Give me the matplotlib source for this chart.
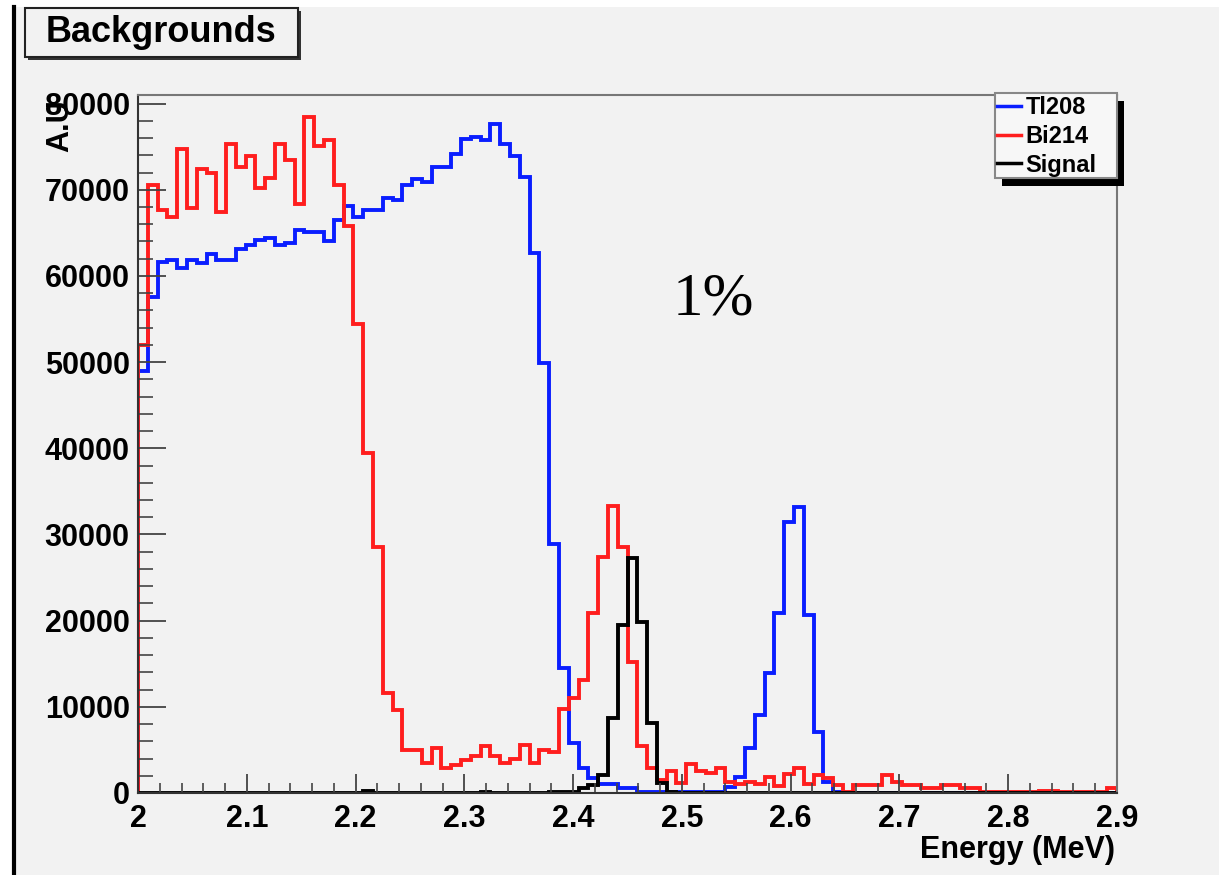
import numpy as np
import matplotlib.pyplot as plt
from matplotlib.patches import Rectangle
from matplotlib.lines import Line2D
from matplotlib.ticker import MultipleLocator

# histogram binning (MeV)
e_lo, e_hi, n_bins = 2.0, 2.9, 100

tl208 = [49000, 57600, 61600, 61800, 60900, 61800, 61500, 62500, 61800, 61800,
         63100, 63600, 64200, 64400, 63600, 63800, 65300, 65100, 65100, 64100,
         66500, 68100, 66900, 67600, 67600, 69000, 68800, 70600, 71200, 70900,
         72700, 72700, 74100, 75900, 76100, 75800, 77600, 75300, 73900, 71500,
         62700, 49900, 28900, 14500, 5800, 2900, 1700, 1100, 1100, 550,
         550, 150, 150, 150, 100, 80, 80, 80, 80, 80,
         650, 1900, 5200, 9100, 13900, 20900, 31400, 33200, 20700, 7100,
         1300, 150, 20, 20, 20, 20, 20, 20, 20, 20,
         0, 0, 0, 0, 0, 0, 0, 0, 0, 0,
         0, 0, 0, 0, 0, 0, 0, 0, 0, 0]

bi214 = [52000, 70600, 67700, 66900, 74700, 67900, 72400, 72000, 67400, 75300,
         72700, 73900, 70200, 71400, 75300, 73500, 68300, 78400, 75100, 75800,
         70600, 65800, 54400, 39500, 28500, 11600, 9600, 5000, 5000, 3450,
         5200, 2900, 3250, 3800, 4300, 5400, 4300, 3500, 4000, 5600,
         3500, 5000, 4700, 9800, 11000, 13100, 20900, 27400, 33300, 28600,
         15200, 5400, 2900, 1500, 2600, 1200, 3400, 2600, 2300, 2900,
         1300, 1100, 1300, 1100, 1900, 800, 2200, 2900, 1100, 2100,
         1700, 900, 150, 900, 900, 900, 2100, 1300, 900, 900,
         600, 600, 900, 900, 600, 600, 150, 150, 150, 150,
         150, 150, 250, 250, 80, 80, 80, 80, 80, 620]

signal = [0, 0, 0, 0, 0, 0, 0, 0, 0, 0,
          0, 0, 0, 0, 0, 0, 0, 0, 0, 0,
          0, 0, 0, 250, 0, 0, 0, 0, 0, 0,
          0, 0, 0, 0, 0, 100, 0, 0, 0, 0,
          30, 50, 80, 100, 150, 550, 930, 2090, 8670, 19500,
          27300, 19900, 8100, 1130, 100, 50, 0, 0, 0, 0,
          0, 0, 0, 0, 0, 0, 0, 0, 0, 0,
          0, 0, 0, 0, 0, 0, 0, 0, 0, 0,
          0, 0, 0, 0, 0, 0, 0, 0, 0, 0,
          0, 0, 0, 0, 0, 0, 0, 0, 0, 0]

series_names = ['Tl208', 'Bi214', 'Signal']
series_colors = ['#0a1eff', '#ff1e1e', '#000000']

x_ticks = [2.0, 2.1, 2.2, 2.3, 2.4, 2.5, 2.6, 2.7, 2.8, 2.9]
x_tick_labels = ['2', '2.1', '2.2', '2.3', '2.4', '2.5', '2.6', '2.7', '2.8', '2.9']
y_ticks = [0, 10000, 20000, 30000, 40000, 50000, 60000, 70000, 80000]

W, H = 1219, 875
bg = '#f2f2f2'


def fx(px):
    return px / W


def fy(py):
    return 1 - py / H


plt.rcParams['font.family'] = ['Liberation Sans', 'DejaVu Sans']
plt.rcParams['font.weight'] = 'bold'

fig = plt.figure(figsize=(W / 100, H / 100), dpi=100, facecolor=bg)

# white margins and the black canvas border on the left
fig.patches.append(Rectangle((0, 0), fx(12), 1, transform=fig.transFigure,
                             facecolor='white', edgecolor='none'))
fig.patches.append(Rectangle((0, fy(7)), 1, 1 - fy(7), transform=fig.transFigure,
                             facecolor='white', edgecolor='none'))
fig.add_artist(Line2D([fx(14), fx(14)], [0, fy(7)], color='black', lw=3,
                      transform=fig.transFigure))

ax = fig.add_axes([fx(138), fy(793), fx(1117) - fx(138), fy(95) - fy(793)])
ax.set_facecolor(bg)

edges = np.linspace(e_lo, e_hi, n_bins + 1)
for vals, col in zip([tl208, bi214, signal], series_colors):
    ax.stairs(vals, edges, color=col, lw=2.8)

ax.set_xlim(e_lo, e_hi)
ax.set_ylim(0, 81000)
ax.set_xticks(x_ticks)
ax.set_xticklabels(x_tick_labels)
ax.set_yticks(y_ticks)
ax.set_yticklabels([str(v) for v in y_ticks])
ax.xaxis.set_minor_locator(MultipleLocator(0.02))
ax.yaxis.set_minor_locator(MultipleLocator(2000))
ax.tick_params(axis='y', which='major', direction='in', length=20, width=1.3,
               color='#444444', labelsize=22, pad=6)
ax.tick_params(axis='y', which='minor', direction='in', length=11, width=1.2,
               color='#444444')
ax.tick_params(axis='x', which='major', direction='in', length=14, width=1.3,
               color='#444444', labelsize=22, pad=8)
ax.tick_params(axis='x', which='minor', direction='in', length=7, width=1.2,
               color='#444444')
for side in ['top', 'right']:
    ax.spines[side].set_color('#777777')
    ax.spines[side].set_linewidth(1.5)
for side in ['left', 'bottom']:
    ax.spines[side].set_color('#333333')
    ax.spines[side].set_linewidth(1.5)

# title box
fig.patches.append(Rectangle((fx(28), fy(60)), fx(273), fy(11) - fy(60),
                             transform=fig.transFigure, facecolor='#333333',
                             edgecolor='none'))
fig.patches.append(Rectangle((fx(25), fy(57)), fx(273), fy(8) - fy(57),
                             transform=fig.transFigure, facecolor=bg,
                             edgecolor='#222222', lw=1.5))
fig.text(fx(161), fy(33), 'Backgrounds', fontsize=26, fontweight='bold',
         ha='center', va='center')

# legend box with shadow
fig.patches.append(Rectangle((fx(1002), fy(186)), fx(122), fy(101) - fy(186),
                             transform=fig.transFigure, facecolor='black',
                             edgecolor='none', zorder=5))
fig.patches.append(Rectangle((fx(995), fy(178)), fx(122), fy(93) - fy(178),
                             transform=fig.transFigure, facecolor='#f7f7f7',
                             edgecolor='#888888', lw=1.5, zorder=6))
handles = [Line2D([], [], color=c, lw=2.5) for c in series_colors]
leg = ax.legend(handles, series_names, loc='upper left',
                bbox_to_anchor=(fx(995), fy(94)), bbox_transform=fig.transFigure,
                frameon=False, fontsize=17, handlelength=1.0, handletextpad=0.2,
                labelspacing=0.24, borderpad=0.1, borderaxespad=0)
leg.set_zorder(7)
leg.remove()
fig.add_artist(leg)

fig.text(fx(713), fy(300), '1%', fontsize=44, fontweight='normal',
         family='Liberation Serif', ha='center', va='center')
fig.text(fx(1115), fy(850), 'Energy (MeV)', fontsize=22, fontweight='bold',
         ha='right', va='center')
fig.text(fx(60), fy(99), 'A.U', fontsize=22, fontweight='bold', rotation=90,
         ha='center', va='top')

fig.savefig('out.png', dpi=100, facecolor=bg)
